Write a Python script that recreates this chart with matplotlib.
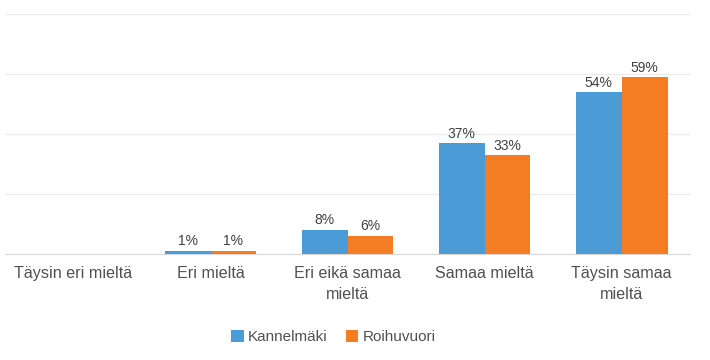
import numpy as np
import matplotlib
matplotlib.use("Agg")
import matplotlib.pyplot as plt

plt.rcParams['font.family'] = ['Liberation Sans', 'DejaVu Sans']

categories = ['Täysin eri mieltä', 'Eri mieltä', 'Eri eikä samaa\nmieltä',
              'Samaa mieltä', 'Täysin samaa\nmieltä']
kannelmaki = [0, 1, 8, 37, 54]
roihuvuori = [0, 1, 6, 33, 59]
series_names = ['Kannelmäki', 'Roihuvuori']

blue = '#4a9bd6'
orange = '#f47d23'
txt = '#404040'

fig = plt.figure(figsize=(7.1, 3.6), dpi=100)
ax = fig.add_axes([0.007, 0.295, 0.965, 0.665])

x = np.arange(len(categories))
w = 0.335
b1 = ax.bar(x - w/2, kannelmaki, w, color=blue, label=series_names[0], zorder=3)
b2 = ax.bar(x + w/2, roihuvuori, w, color=orange, label=series_names[1], zorder=3)

# data labels (skip zero values)
for bars, vals in ((b1, kannelmaki), (b2, roihuvuori)):
    for rect, v in zip(bars, vals):
        if v == 0:
            continue
        ax.text(rect.get_x() + rect.get_width()/2, v + 0.8, '%d%%' % v,
                ha='center', va='bottom', fontsize=10, color=txt)

ax.set_xlim(-0.5, len(categories) - 0.5)
ax.set_ylim(0, 80)
ax.set_yticks([0, 20, 40, 60, 80])
ax.yaxis.grid(True, color='#ececec', linewidth=1, zorder=0)
ax.tick_params(axis='y', left=False, labelleft=False)
ax.tick_params(axis='x', bottom=False, pad=5)
ax.set_xticks(x)
ax.set_xticklabels(categories, fontsize=11.6, color='#505050', linespacing=1.5)
for s in ['top', 'right', 'left']:
    ax.spines[s].set_visible(False)
ax.spines['bottom'].set_color('#d9d9d9')

fig.legend(handles=[b1, b2], labels=series_names, loc='center',
           bbox_to_anchor=(0.47, 0.063), ncol=2, frameon=False, fontsize=11,
           handlelength=0.8, handleheight=0.8, handletextpad=0.3,
           columnspacing=1.2, labelcolor='#505050')

fig.savefig('out.png', dpi=100, facecolor='white')
